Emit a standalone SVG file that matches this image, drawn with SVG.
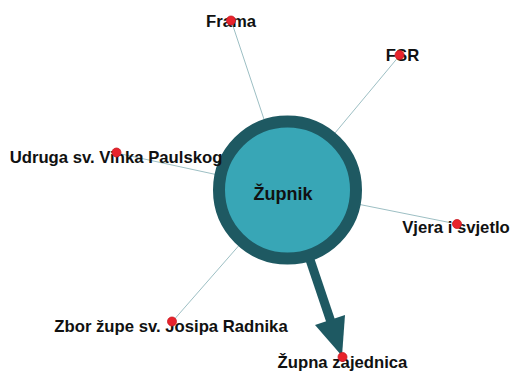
<svg xmlns="http://www.w3.org/2000/svg" width="511" height="372" viewBox="0 0 511 372">
<style>
.e{stroke:#9dbfc4;stroke-width:1;fill:none}
.lbl{font-family:"Liberation Sans",Arial,sans-serif;font-weight:bold;font-size:16.7px;fill:#111;text-anchor:middle}
.dot{fill:#e8232c;stroke:#c81a22;stroke-width:0.8}
</style>
<rect width="511" height="372" fill="#fff"/>
<g id="connectors">
<line class="e" x1="231" y1="20" x2="287.5" y2="190"/>
<line class="e" x1="400" y1="55" x2="287.5" y2="190"/>
<line class="e" x1="116.5" y1="153" x2="287.5" y2="190"/>
<line class="e" x1="457" y1="224" x2="287.5" y2="190"/>
<line class="e" x1="172" y1="322" x2="287.5" y2="190"/>
<line x1="300" y1="230" x2="331" y2="322" stroke="#1e5962" stroke-width="9"/>
<polygon points="342,356 315,325 345,315" fill="#1e5962"/>
</g>
<g id="zupnik">
<circle cx="287.5" cy="190" r="68.5" fill="#38a6b6" stroke="#1e5962" stroke-width="12"/>
<text x="283" y="200" class="lbl" style="font-size:18px">Župnik</text>
</g>
<g id="frama">
<text x="231" y="27" class="lbl">Frama</text>
<circle class="dot" cx="231" cy="20.5" r="4.5"/>
</g>
<g id="fsr">
<text x="402.5" y="61" class="lbl">FSR</text>
<circle class="dot" cx="399.5" cy="55" r="4.5"/>
</g>
<g id="udruga">
<text x="116" y="163" class="lbl">Udruga sv. Vinka Paulskog</text>
<circle class="dot" cx="116.5" cy="152.5" r="4.5"/>
</g>
<g id="vjera">
<text x="456" y="233" class="lbl">Vjera i svjetlo</text>
<circle class="dot" cx="457" cy="224" r="4.5"/>
</g>
<g id="zbor">
<text x="171" y="332" class="lbl">Zbor župe sv. Josipa Radnika</text>
<circle class="dot" cx="172" cy="321.5" r="4.5"/>
</g>
<g id="zupna">
<text x="342.5" y="368" class="lbl">Župna zajednica</text>
<circle class="dot" cx="342.5" cy="357" r="4.5"/>
</g>
</svg>
